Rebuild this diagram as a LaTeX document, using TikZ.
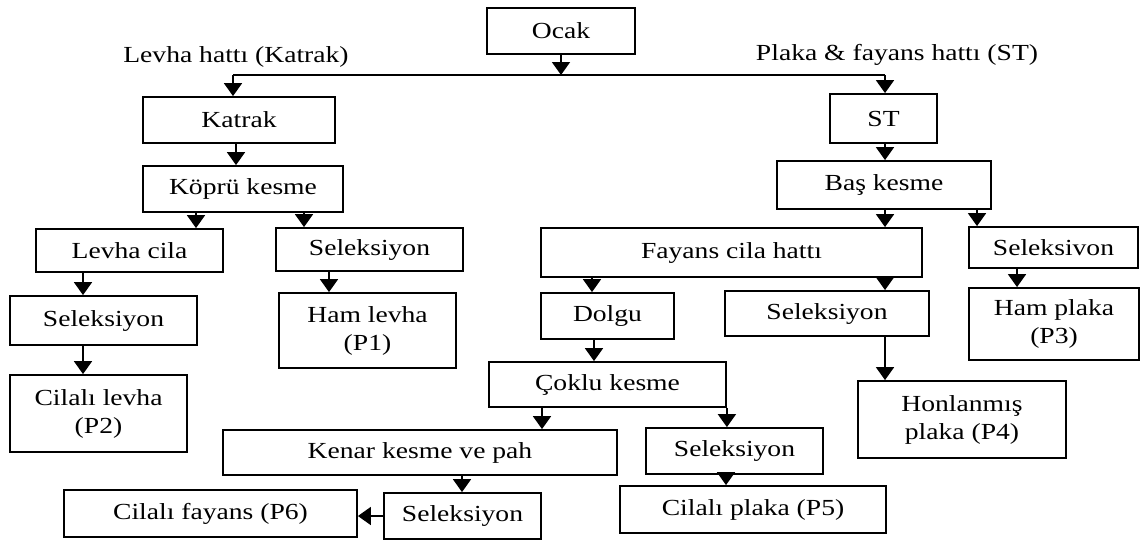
\documentclass[tikz,border=0pt]{standalone}
\usepackage{fontspec}
\setmainfont{Liberation Serif}[FakeStretch=1.2]
\usetikzlibrary{arrows.meta}
\tikzset{
  box/.style 2 args={draw, line width=.9pt, minimum width=#1pt, minimum height=#2pt, align=center, inner sep=1pt},
  arr/.style={-{Triangle[width=9pt,length=6.5pt]}, line width=.9pt},
}
\begin{document}
\begin{tikzpicture}[x=.5pt, y=-.5pt, font=\fontsize{11.5}{14}\selectfont]
\useasboundingbox (0,0) rectangle (1143,541);
% ust kisim
\node[box={74}{23}] (ocak) at (561,31) {Ocak};
\node (levlbl) at (236,57) {Levha hattı (Katrak)};
\node (plklbl) at (897,55) {Plaka \& fayans hattı (ST)};
\coordinate (split) at (561,75);
\coordinate (lft) at (233,75);
\coordinate (rgt) at (885,75);
% levha hatti
\node[box={96}{23}] (katrak) at (239,120) {Katrak};
\node[box={100}{23}] (kopru) at (243,189) {Köprü kesme};
\node[box={93.5}{21.5}] (levcila) at (129.5,250.5) {Levha cila};
\node[box={93.5}{21.5}] (sel1) at (369.5,249.5) {Seleksiyon};
\node[box={93.5}{24.5}] (sel2) at (103.5,320.5) {Seleksiyon};
\node[box={88.5}{38.5}] (p2) at (98.5,413.5) {Cilalı levha\\(P2)};
\node[box={88.5}{37.5}] (p1) at (367.5,330.5) {Ham levha\\(P1)};
% plaka ve fayans hatti
\node[box={53.5}{24.5}] (st) at (883.5,118.5) {ST};
\node[box={107}{24}] (bas) at (884,185) {Baş kesme};
\node[box={190.5}{24.5}] (fayans) at (731.5,252.5) {Fayans cila hattı};
\node[box={84.5}{20.5}] (sel3) at (1053.5,247.5) {Seleksivon};
\node[box={85}{36}] (p3) at (1054,324) {Ham plaka\\(P3)};
\node[box={66.5}{23}] (dolgu) at (607.5,316) {Dolgu};
\node[box={102}{22.5}] (sel4) at (827,313.5) {Seleksiyon};
\node[box={104}{38.5}] (p4) at (962,419.5) {Honlanmış\\plaka (P4)};
\node[box={118.5}{22.5}] (coklu) at (607.5,384.5) {Çoklu kesme};
\node[box={197}{22.5}] (kenar) at (420,452.5) {Kenar kesme ve pah};
\node[box={88.5}{23}] (sel5) at (734.5,451) {Seleksiyon};
\node[box={78.5}{23}] (sel6) at (462.5,516) {Seleksiyon};
\node[box={146.5}{23.5}] (p6) at (210.5,513.5) {Cilalı fayans (P6)};
\node[box={133}{23.5}] (p5) at (753,509.5) {Cilalı plaka (P5)};
% baglantilar
\draw[arr] (ocak.south) -- (split);
\draw[line width=.9pt] (lft) -- (rgt);
\draw[arr] (lft) -- (lft |- katrak.north);
\draw[arr] (rgt) -- (rgt |- st.north);
\draw[arr] (236,0 |- katrak.south) -- (236,0 |- kopru.north);
\draw[arr] (196,0 |- kopru.south) -- (196,0 |- levcila.north);
\draw[arr] (304,0 |- kopru.south) -- (304,0 |- sel1.north);
\draw[arr] (83,0 |- levcila.south) -- (83,0 |- sel2.north);
\draw[arr] (83,0 |- sel2.south) -- (83,0 |- p2.north);
\draw[arr] (329,0 |- sel1.south) -- (329,0 |- p1.north);
\draw[arr] (885,0 |- st.south) -- (885,0 |- bas.north);
\draw[arr] (885,0 |- bas.south) -- (885,0 |- fayans.north);
\draw[arr] (977,0 |- bas.south) -- (977,0 |- sel3.north);
\draw[arr] (1017,0 |- sel3.south) -- (1017,0 |- p3.north);
\draw[arr] (592,0 |- fayans.south) -- (592,0 |- dolgu.north);
\draw[arr] (885,0 |- fayans.south) -- (885,0 |- sel4.north);
\draw[arr] (885,0 |- sel4.south) -- (885,0 |- p4.north);
\draw[arr] (594,0 |- dolgu.south) -- (594,0 |- coklu.north);
\draw[arr] (542,0 |- coklu.south) -- (542,0 |- kenar.north);
\draw[arr] (coklu.south east) -- (coklu.south east |- sel5.north);
\draw[arr] (726,0 |- sel5.south) -- (726,0 |- p5.north);
\draw[arr] (462,0 |- kenar.south) -- (462,0 |- sel6.north);
\draw[arr] (sel6.west) -- (sel6.west -| p6.east);
\end{tikzpicture}
\end{document}
